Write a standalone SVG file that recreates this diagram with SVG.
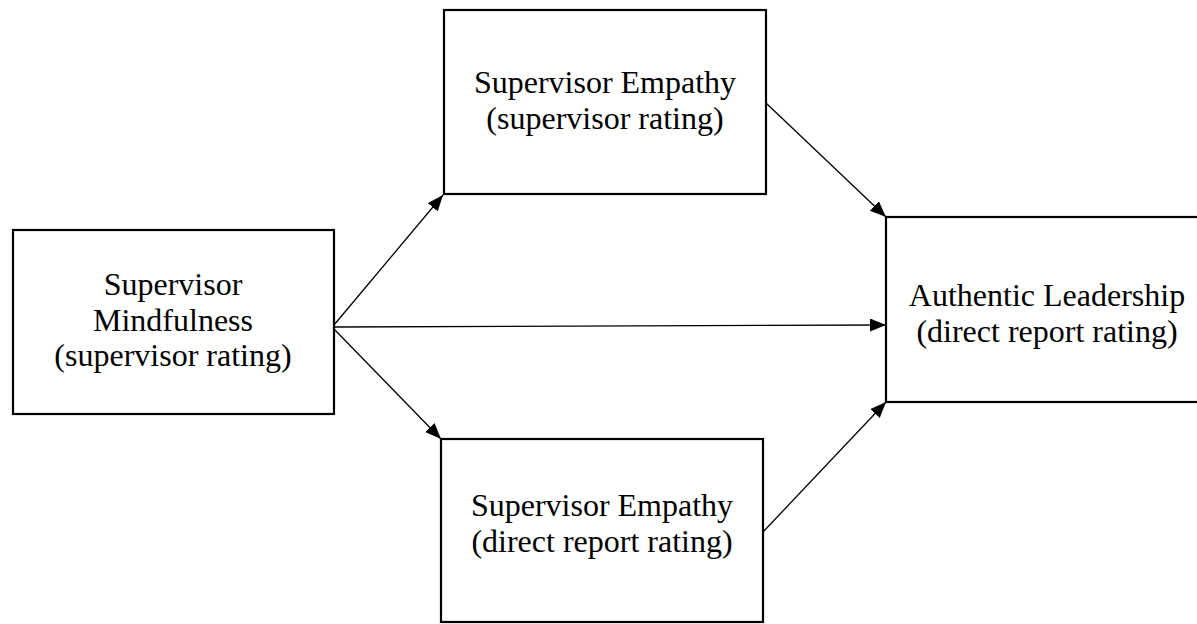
<svg xmlns="http://www.w3.org/2000/svg" width="1197" height="624" viewBox="0 0 1197 624">
<style>
.box{fill:#fff;stroke:#000;stroke-width:2.2}
.t{font-family:"Liberation Serif","Times New Roman",serif;font-size:32px;fill:#000;text-anchor:middle}
.c{stroke:#000;stroke-width:1.3;fill:none;marker-end:url(#ah)}
</style>
<defs>
<marker id="ah" markerUnits="userSpaceOnUse" markerWidth="18" markerHeight="14" refX="16" refY="6.5" orient="auto">
<path d="M0,0 L16,6.5 L0,13 z" fill="#000"/>
</marker>
</defs>
<rect width="1197" height="624" fill="#fff"/>
<g id="mindfulness">
<rect class="box" x="13" y="230" width="321" height="184"/>
<text class="t" x="173" y="295">Supervisor</text>
<text class="t" x="173" y="331">Mindfulness</text>
<text class="t" x="173" y="366">(supervisor rating)</text>
</g>
<g id="empathy-supervisor">
<rect class="box" x="444" y="10" width="322" height="184"/>
<text class="t" x="605" y="93">Supervisor Empathy</text>
<text class="t" x="605" y="129">(supervisor rating)</text>
</g>
<g id="empathy-direct">
<rect class="box" x="441" y="439" width="322" height="183"/>
<text class="t" x="602" y="516">Supervisor Empathy</text>
<text class="t" x="602" y="552">(direct report rating)</text>
</g>
<g id="authentic">
<rect class="box" x="886" y="217" width="320" height="185"/>
<text class="t" x="1047" y="306">Authentic Leadership</text>
<text class="t" x="1047" y="342">(direct report rating)</text>
</g>
<g id="connectors">
<line class="c" x1="334" y1="325" x2="443" y2="195"/>
<line class="c" x1="334" y1="327" x2="886" y2="325"/>
<line class="c" x1="334" y1="329" x2="441" y2="439"/>
<line class="c" x1="766" y1="103" x2="886" y2="217"/>
<line class="c" x1="763" y1="532" x2="886" y2="402"/>
</g>
</svg>
